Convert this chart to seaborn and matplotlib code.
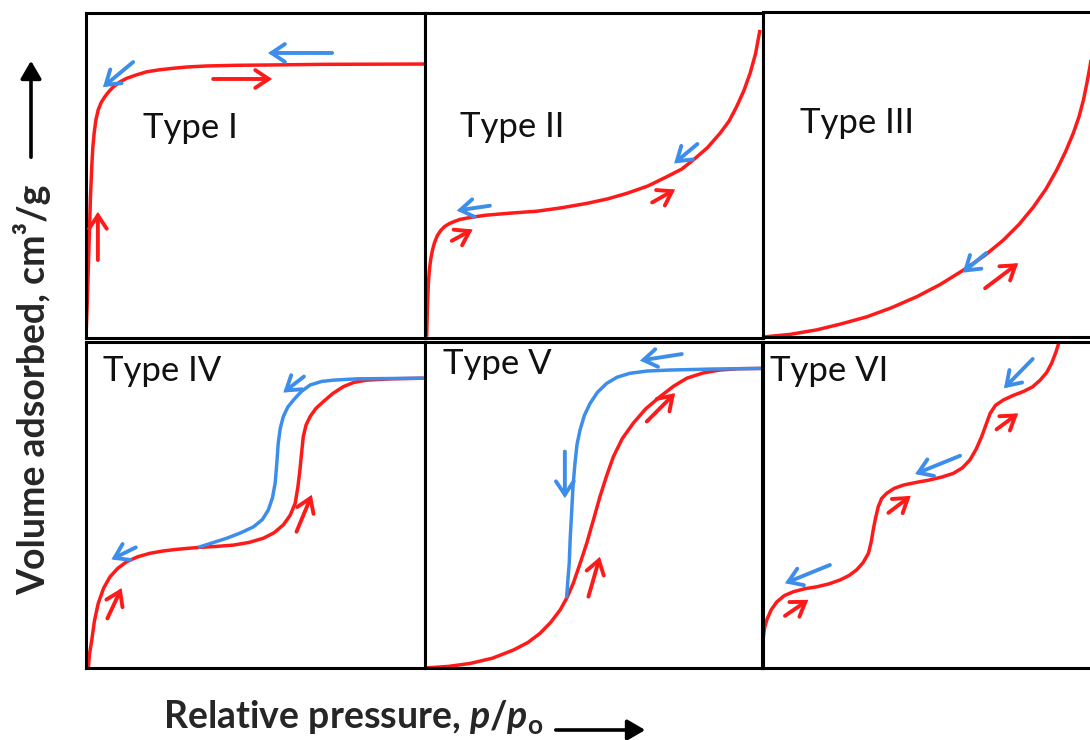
import matplotlib
matplotlib.use("Agg")
import matplotlib.pyplot as plt
from matplotlib.patches import FancyArrowPatch
import seaborn as sns

RED = "#ff1a1a"
BLUE = "#3d8eea"

# ---- isotherm shapes (x = p/p0, y = volume adsorbed, both 0..1) ----
type1_ads_x = [0.0, 0.002, 0.004, 0.007, 0.010, 0.013, 0.017, 0.020, 0.024, 0.029, 0.036, 0.045, 0.056, 0.068,
               0.081, 0.10, 0.12, 0.15, 0.179, 0.215, 0.258, 0.30, 0.356, 0.44, 0.533, 0.7, 1.005]
type1_ads_y = [0.004, 0.06, 0.117, 0.22, 0.322, 0.43, 0.527, 0.585, 0.630, 0.67, 0.702, 0.725, 0.743, 0.759,
               0.773, 0.788, 0.799, 0.81, 0.819, 0.825, 0.830, 0.834, 0.837, 0.839, 0.840, 0.842, 0.843]

type2_ads_x = [0.005, 0.007, 0.010, 0.013, 0.017, 0.022, 0.028, 0.036, 0.046, 0.058, 0.072, 0.088, 0.104, 0.14,
               0.182, 0.25, 0.33, 0.40, 0.478, 0.54, 0.597, 0.66, 0.715, 0.76, 0.794, 0.835, 0.873, 0.90, 0.922,
               0.943, 0.962, 0.978, 0.991]
type2_ads_y = [0.004, 0.09, 0.168, 0.21, 0.243, 0.27, 0.293, 0.314, 0.33, 0.343, 0.352, 0.359, 0.365, 0.372,
               0.378, 0.384, 0.390, 0.40, 0.414, 0.428, 0.445, 0.468, 0.496, 0.52, 0.548, 0.585, 0.630, 0.668, 0.712,
               0.76, 0.815, 0.875, 0.948]

type3_ads_x = [0.0, 0.08, 0.159, 0.23, 0.307, 0.38, 0.455, 0.525, 0.593, 0.655, 0.711, 0.758, 0.80, 0.837, 0.869,
               0.895, 0.918, 0.935, 0.948, 0.958, 0.967, 0.976, 0.985]
type3_ads_y = [0.0, 0.008, 0.022, 0.04, 0.062, 0.09, 0.124, 0.162, 0.206, 0.25, 0.298, 0.347, 0.40, 0.455, 0.514,
               0.57, 0.627, 0.678, 0.729, 0.78, 0.830, 0.89, 0.96]

type4_ads_x = [0.007, 0.010, 0.017, 0.025, 0.036, 0.052, 0.071, 0.094, 0.12, 0.152, 0.189, 0.228, 0.268, 0.30,
               0.336, 0.385, 0.435, 0.48, 0.523, 0.555, 0.582, 0.602, 0.617, 0.625, 0.631, 0.636, 0.641, 0.649,
               0.661, 0.678, 0.70, 0.728, 0.759, 0.79, 0.828, 0.9, 0.995]
type4_ads_y = [0.0, 0.04, 0.086, 0.145, 0.198, 0.245, 0.28, 0.306, 0.326, 0.341, 0.352, 0.359, 0.364, 0.367,
               0.37, 0.373, 0.377, 0.385, 0.398, 0.415, 0.439, 0.468, 0.505, 0.555, 0.607, 0.66, 0.71, 0.745,
               0.771, 0.796, 0.817, 0.842, 0.863, 0.876, 0.883, 0.887, 0.889]
type4_des_x = [0.331, 0.37, 0.415, 0.455, 0.494, 0.52, 0.538, 0.55, 0.558, 0.563, 0.567, 0.573, 0.582, 0.595,
               0.612, 0.635, 0.661, 0.695, 0.73, 0.8, 1.0]
type4_des_y = [0.37, 0.383, 0.398, 0.414, 0.433, 0.455, 0.485, 0.522, 0.567, 0.63, 0.689, 0.735, 0.771, 0.8,
               0.822, 0.848, 0.868, 0.879, 0.883, 0.887, 0.889]

type5_ads_x = [0.0, 0.07, 0.134, 0.2, 0.262, 0.305, 0.341, 0.373, 0.401, 0.422, 0.44, 0.46, 0.48, 0.50, 0.519,
               0.539, 0.559, 0.585, 0.618, 0.655, 0.697, 0.737, 0.777, 0.825, 0.875, 0.93, 0.999]
type5_ads_y = [0.0, 0.005, 0.014, 0.03, 0.055, 0.078, 0.106, 0.14, 0.178, 0.217, 0.26, 0.32, 0.383, 0.455, 0.525,
               0.59, 0.648, 0.703, 0.751, 0.795, 0.832, 0.864, 0.889, 0.905, 0.914, 0.918, 0.919]
type5_des_x = [0.42, 0.424, 0.428, 0.431, 0.435, 0.439, 0.445, 0.451, 0.46, 0.473, 0.49, 0.512, 0.539, 0.57,
               0.608, 0.66, 0.727, 0.85, 0.999]
type5_des_y = [0.214, 0.27, 0.321, 0.4, 0.475, 0.555, 0.628, 0.685, 0.73, 0.775, 0.812, 0.846, 0.873, 0.892,
               0.904, 0.911, 0.914, 0.917, 0.919]

type6_ads_x = [0.0, 0.004, 0.011, 0.024, 0.041, 0.063, 0.09, 0.123, 0.159, 0.195, 0.228, 0.255, 0.277, 0.296,
               0.312, 0.320, 0.326, 0.333, 0.341, 0.351, 0.366, 0.388, 0.415, 0.452, 0.494, 0.53, 0.563, 0.59,
               0.612, 0.631, 0.647, 0.66, 0.672, 0.688, 0.711, 0.74, 0.77, 0.797, 0.82, 0.839, 0.854, 0.867, 0.879]
type6_ads_y = [0.086, 0.12, 0.147, 0.178, 0.203, 0.222, 0.234, 0.243, 0.249, 0.258, 0.27, 0.284, 0.301, 0.323,
               0.352, 0.386, 0.423, 0.46, 0.495, 0.52, 0.536, 0.551, 0.561, 0.569, 0.577, 0.586, 0.597, 0.614,
               0.638, 0.672, 0.71, 0.747, 0.781, 0.806, 0.822, 0.836, 0.848, 0.862, 0.883, 0.906, 0.935, 0.97, 1.01]

# direction arrows: (x_tail, y_tail, x_head, y_head)
type1_red_arrows = [(0.375, 0.797, 0.549, 0.797), (0.035, 0.24, 0.035, 0.388)]
type1_blue_arrows = [(0.139, 0.849, 0.05, 0.772), (0.726, 0.877, 0.537, 0.877)]
type2_red_arrows = [(0.079, 0.299, 0.141, 0.334), (0.672, 0.417, 0.740, 0.457)]
type2_blue_arrows = [(0.192, 0.407, 0.094, 0.392), (0.806, 0.597, 0.737, 0.537)]
type3_red_arrows = [(0.657, 0.15, 0.755, 0.227)]
type3_blue_arrows = [(0.66, 0.258, 0.591, 0.198)]
type4_red_arrows = [(0.063, 0.152, 0.105, 0.245), (0.621, 0.418, 0.666, 0.531)]
type4_blue_arrows = [(0.147, 0.37, 0.075, 0.333), (0.643, 0.894, 0.582, 0.845)]
type5_red_arrows = [(0.658, 0.756, 0.742, 0.843), (0.485, 0.219, 0.519, 0.341)]
type5_blue_arrows = [(0.762, 0.963, 0.638, 0.943), (0.415, 0.664, 0.415, 0.521)]
type6_red_arrows = [(0.691, 0.732, 0.755, 0.781), (0.371, 0.476, 0.437, 0.528), (0.065, 0.16, 0.134, 0.209)]
type6_blue_arrows = [(0.798, 0.948, 0.713, 0.858), (0.583, 0.651, 0.45, 0.595), (0.198, 0.316, 0.065, 0.26)]

type_labels = ["Type I", "Type II", "Type III", "Type IV", "Type V", "Type VI"]

panels = [
    (type1_ads_x, type1_ads_y, None, None, type1_red_arrows, type1_blue_arrows),
    (type2_ads_x, type2_ads_y, None, None, type2_red_arrows, type2_blue_arrows),
    (type3_ads_x, type3_ads_y, None, None, type3_red_arrows, type3_blue_arrows),
    (type4_ads_x, type4_ads_y, type4_des_x, type4_des_y, type4_red_arrows, type4_blue_arrows),
    (type5_ads_x, type5_ads_y, type5_des_x, type5_des_y, type5_red_arrows, type5_blue_arrows),
    (type6_ads_x, type6_ads_y, None, None, type6_red_arrows, type6_blue_arrows),
]

# layout in pixels: (left, top, width, height) of every panel, label anchor (axes fraction, baseline)
W, H = 1090, 740
boxes = [(86, 13, 339, 325), (425, 13, 338, 325), (763, 12, 338, 325),
         (86, 342, 339, 326), (425, 342, 337, 326), (763, 342, 338, 326)]
label_pos = [(0.168, 0.615), (0.104, 0.619), (0.109, 0.629),
             (0.05, 0.881), (0.053, 0.902), (0.021, 0.881)]

sns.set_style("white")
plt.rcParams["font.family"] = ["Lato", "DejaVu Sans"]
plt.rcParams["mathtext.fontset"] = "custom"
plt.rcParams["mathtext.it"] = "Lato:italic:bold"
plt.rcParams["mathtext.rm"] = "Lato:bold"

fig = plt.figure(figsize=(W / 100, H / 100), dpi=100)

line_kw = dict(sort=False, estimator=None, linewidth=2.5, solid_joinstyle="round", solid_capstyle="butt")


def draw_arrows(ax, arrows, color):
    for x0, y0, x1, y1 in arrows:
        ax.annotate("", xy=(x1, y1), xytext=(x0, y0),
                    arrowprops=dict(arrowstyle="->,head_length=0.6,head_width=0.4",
                                    color=color, lw=2.8, shrinkA=0, shrinkB=0,
                                    mutation_scale=16, joinstyle="miter"))


for (ax_x, ax_y, des_x, des_y, red_arr, blue_arr), (l, t, w, h), label, (tx, ty) in zip(
        panels, boxes, type_labels, label_pos):
    ax = fig.add_axes([l / W, (H - t - h) / H, w / W, h / H])
    sns.lineplot(x=ax_x, y=ax_y, color=RED, ax=ax, **line_kw)
    if des_x is not None:
        sns.lineplot(x=des_x, y=des_y, color=BLUE, ax=ax, **line_kw)
    draw_arrows(ax, red_arr, RED)
    draw_arrows(ax, blue_arr, BLUE)
    ax.text(tx, ty, label, transform=ax.transAxes, fontsize=25, ha="left", va="baseline", color="#111111")
    ax.set_xlim(0, 1)
    ax.set_ylim(0, 1)
    ax.set_xticks([])
    ax.set_yticks([])
    ax.set_xlabel("")
    ax.set_ylabel("")
    for sp in ax.spines.values():
        sp.set_visible(True)
        sp.set_color("black")
        sp.set_linewidth(2.2)

# axis titles with their arrows
fig.text(163 / W, (H - 728) / H, r"Relative pressure, $p/p_{\mathrm{o}}$",
         fontsize=27, fontweight="bold", ha="left", va="baseline")
fig.text(32 / W, (H - 390) / H, "Volume adsorbed, cm\u00b3/g",
         fontsize=27, fontweight="bold", rotation=90, ha="center", va="center")
fig.patches.append(FancyArrowPatch(
    (553 / W, (H - 730) / H), (648 / W, (H - 730) / H), transform=fig.transFigure,
    arrowstyle="-|>,head_length=0.6,head_width=0.35", mutation_scale=18, color="black", lw=2.6))
fig.patches.append(FancyArrowPatch(
    (31 / W, (H - 160) / H), (31 / W, (H - 58) / H), transform=fig.transFigure,
    arrowstyle="-|>,head_length=0.6,head_width=0.35", mutation_scale=18, color="black", lw=2.6))

fig.savefig("out.png", dpi=100)
